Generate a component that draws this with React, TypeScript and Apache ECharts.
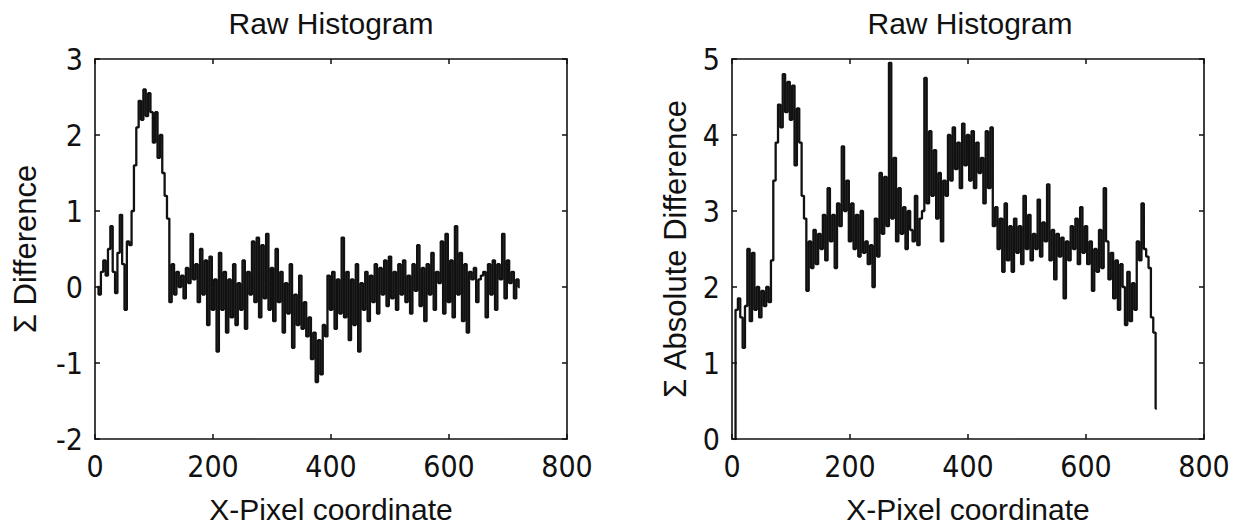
import React, { useEffect, useRef } from "react";
import * as echarts from "echarts";

// sampling step along the X-pixel coordinate (every 4 pixels, starting at 4)
const SAMPLE_STEP = 4;

// Left panel: Σ Difference (x = 4, 8, ..., 720)
const diffValues: number[] = [
  0.0, -0.1, 0.2, 0.35, 0.15, 0.5, 0.8, 0.2, -0.08, 0.45,
  0.95, 0.3, -0.3, 0.6, 0.55, 1.0, 1.6, 2.1, 2.45, 2.2,
  2.6, 2.25, 2.55, 2.3, 1.9, 2.3, 1.7, 2.0, 1.5, 1.2,
  0.9, -0.2, 0.3, -0.1, 0.2, 0.0, 0.15, -0.15, 0.25, 0.05,
  0.7, 0.1, 0.3, -0.2, 0.5, -0.1, 0.35, -0.5, 0.4, -0.3,
  0.1, -0.85, 0.45, -0.3, 0.2, -0.6, 0.1, -0.4, 0.3, -0.5,
  0.05, -0.3, 0.35, -0.55, 0.2, -0.1, 0.6, -0.2, 0.65, -0.4,
  0.55, -0.15, 0.7, -0.3, 0.25, -0.45, 0.5, -0.2, 0.2, -0.6,
  0.05, -0.35, 0.3, -0.8, -0.1, -0.5, 0.15, -0.55, -0.2, -0.65,
  -0.4, -0.95, -0.6, -1.25, -0.7, -1.15, -0.5, -0.65, 0.15, -0.3,
  0.2, -0.55, 0.1, -0.35, 0.65, -0.4, 0.2, -0.7, 0.1, -0.5,
  0.3, -0.85, 0.05, -0.3, 0.2, -0.45, 0.15, -0.2, 0.3, -0.35,
  0.25, -0.1, 0.35, -0.25, 0.4, -0.15, 0.2, -0.3, 0.3, -0.1,
  0.35, -0.2, 0.15, -0.35, 0.3, -0.05, 0.55, -0.25, 0.25, -0.45,
  0.3, -0.1, 0.45, -0.3, 0.2, 0.05, 0.6, -0.35, 0.7, -0.2,
  0.35, -0.4, 0.8, -0.1, 0.45, -0.45, 0.3, -0.6, 0.2, 0.1,
  0.25, -0.2, 0.1, 0.15, 0.2, -0.4, 0.3, -0.1, 0.35, -0.3,
  0.3, 0.1, 0.7, -0.15, 0.35, 0.05, 0.2, -0.15, 0.1, 0.0,
];

// Right panel: Σ Absolute Difference (x = 4, 8, ..., 720)
const absDiffValues: number[] = [
  0.0, 1.7, 1.85, 1.6, 1.2, 1.75, 2.5, 1.55, 2.45, 1.7,
  2.0, 1.6, 1.95, 1.75, 2.0, 1.8, 2.35, 3.4, 3.9, 4.4,
  4.1, 4.8, 4.3, 4.7, 4.2, 4.65, 3.6, 4.35, 3.9, 3.2,
  2.9, 1.95, 2.6, 2.25, 2.75, 2.3, 2.7, 2.5, 2.95, 2.35,
  3.3, 2.6, 2.95, 2.25, 3.1, 2.8, 3.85, 3.0, 3.4, 2.6,
  3.1, 2.5, 2.95, 2.4, 3.0, 2.45, 2.6, 2.3, 2.55, 2.0,
  2.9, 2.4, 3.5, 2.7, 3.45, 2.8, 4.95, 2.9, 3.7, 2.6,
  3.3, 2.7, 3.05, 2.5, 3.0, 2.75, 2.6, 3.2, 2.55, 2.9,
  3.0, 4.75, 3.1, 4.05, 3.2, 3.8, 2.9, 3.5, 2.6, 3.4,
  3.2, 4.0, 3.4, 4.1, 3.55, 3.9, 3.3, 4.15, 3.6, 4.0,
  3.4, 4.05, 3.3, 3.9, 3.5, 3.7, 3.1, 4.05, 3.3, 4.1,
  2.8, 3.05, 2.5, 2.9, 2.2, 3.1, 2.35, 2.8, 2.2, 2.9,
  2.45, 2.8, 2.3, 3.2, 2.5, 2.95, 2.35, 2.7, 2.5, 3.15,
  2.4, 2.85, 2.6, 3.35, 2.35, 2.75, 2.1, 2.7, 2.4, 2.65,
  1.85, 2.6, 2.35, 2.8, 2.5, 2.9, 2.3, 3.05, 2.45, 2.8,
  2.3, 2.6, 1.95, 2.5, 2.2, 2.75, 2.25, 3.3, 2.6, 2.1,
  2.45, 1.85, 2.35, 1.7, 2.3, 2.0, 1.5, 2.2, 1.55, 2.05,
  1.7, 2.6, 2.35, 3.1, 2.5, 2.4, 2.25, 1.6, 1.4, 0.4,
];

const X_MIN = 0;
const X_MAX = 800;
const X_INTERVAL = 200;
const LEFT_Y = { min: -2, max: 3, interval: 1 };
const RIGHT_Y = { min: 0, max: 5, interval: 1 };
const TITLES = ["Raw Histogram", "Raw Histogram"];
const X_NAME = "X-Pixel coordinate";
const Y_NAMES = ["Σ Difference", "Σ Absolute Difference"];

const toPairs = (vals: number[]) => vals.map((v, i) => [(i + 1) * SAMPLE_STEP, v]);

const TICK_FONT = '"DejaVu Sans Condensed", "Liberation Sans", Arial, sans-serif';
const TEXT_FONT = '"Liberation Sans", Arial, sans-serif';
const INK = "#111";

export default function App() {
  const ref = useRef<HTMLDivElement>(null);

  useEffect(() => {
    if (!ref.current) return;
    const chart = echarts.init(ref.current, undefined, { renderer: "svg" });

    const grids = [
      { left: 95, top: 59, width: 472, height: 387 },
      { left: 732, top: 59, width: 472, height: 387 },
    ];

    const axisLine = { show: true, onZero: false, lineStyle: { color: INK, width: 1.6 } };
    const axisTick = { show: true, inside: true, length: 5, lineStyle: { color: INK, width: 1.5 } };

    const mainX = (gi: number) => ({
      type: "value",
      gridIndex: gi,
      min: X_MIN,
      max: X_MAX,
      interval: X_INTERVAL,
      position: "bottom",
      name: X_NAME,
      nameLocation: "middle",
      nameGap: 55,
      nameTextStyle: { fontFamily: TEXT_FONT, fontSize: 30, color: INK },
      axisLine,
      axisTick,
      axisLabel: { show: true, margin: 12, fontFamily: TICK_FONT, fontSize: 30, color: INK },
      splitLine: { show: false },
    });
    const topX = (gi: number) => ({
      type: "value",
      gridIndex: gi,
      min: X_MIN,
      max: X_MAX,
      interval: X_INTERVAL,
      position: "top",
      axisLine,
      axisTick,
      axisLabel: { show: false },
      splitLine: { show: false },
    });
    const mainY = (gi: number, r: any, name: string, gap: number) => ({
      type: "value",
      gridIndex: gi,
      min: r.min,
      max: r.max,
      interval: r.interval,
      position: "left",
      name,
      nameLocation: "middle",
      nameRotate: 90,
      nameGap: gap,
      nameTextStyle: { fontFamily: TEXT_FONT, fontSize: 31, color: INK },
      axisLine,
      axisTick,
      axisLabel: { show: true, margin: 12, fontFamily: TICK_FONT, fontSize: 30, color: INK },
      splitLine: { show: false },
    });
    const rightY = (gi: number, r: any) => ({
      type: "value",
      gridIndex: gi,
      min: r.min,
      max: r.max,
      interval: r.interval,
      position: "right",
      axisLine,
      axisTick,
      axisLabel: { show: false },
      splitLine: { show: false },
    });

    const lineSeries = (xi: number, yi: number, vals: number[]) => ({
      type: "line",
      xAxisIndex: xi,
      yAxisIndex: yi,
      data: toPairs(vals),
      step: "middle",
      showSymbol: false,
      symbol: "none",
      lineStyle: { color: INK, width: 2.3 },
      silent: true,
    });

    const titleText = (x: number, text: string) => ({
      type: "text",
      x,
      y: 23,
      style: {
        text,
        fontFamily: TEXT_FONT,
        fontSize: 30,
        fill: INK,
        textAlign: "center",
        textVerticalAlign: "middle",
      },
    });

    chart.setOption({
      animation: false,
      backgroundColor: "#fff",
      textStyle: { fontFamily: TEXT_FONT },
      grid: grids,
      xAxis: [mainX(0), topX(0), mainX(1), topX(1)],
      yAxis: [
        mainY(0, LEFT_Y, Y_NAMES[0], 54),
        rightY(0, LEFT_Y),
        mainY(1, RIGHT_Y, Y_NAMES[1], 41),
        rightY(1, RIGHT_Y),
      ],
      graphic: [titleText(331, TITLES[0]), titleText(970, TITLES[1])],
      series: [lineSeries(0, 0, diffValues), lineSeries(2, 2, absDiffValues)],
    });

    return () => chart.dispose();
  }, []);

  return (
    <div
      ref={ref}
      style={{ position: "absolute", left: 0, top: 0, width: 1250, height: 529, background: "#fff" }}
    />
  );
}
